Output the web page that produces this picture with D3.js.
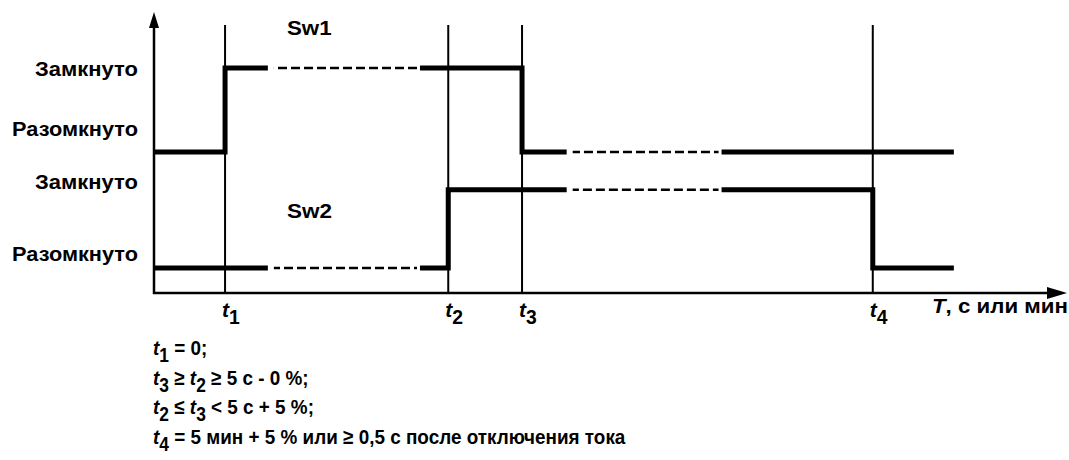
<!DOCTYPE html>
<html lang="ru">
  <head>
    <meta charset="UTF-8" />
    <title>Sw1 / Sw2</title>
    <script src="https://d3js.org/d3.v7.min.js"></script>
    <style>
      body { margin: 0; background: #fff; }
      text { font-family: "Liberation Sans", Arial, sans-serif; font-weight: bold; fill: #000; }
    </style>
  </head>
  <body>
    <svg></svg>
    <script>
      // time axis is in arbitrary units, 0..100
      var eventTimes = [7.8, 32.3, 40.4, 78.9];
      var eventNames = ["1", "2", "3", "4"];
      var endTime = 87.8;
      // dashed stretches (time is not to scale there)
      var breaks = [[12.5, 29.2], [45.3, 62.3]];

      // state levels (0..100 on the vertical axis)
      var sw1Times = [0, 7.8, 40.4, endTime];
      var sw1Levels = [50.2, 80.1, 50.2, 50.2];
      var sw2Times = [0, 32.3, 78.9, endTime];
      var sw2Levels = [8.9, 36.7, 8.9, 8.9];

      var stateLabels = ["Замкнуто", "Разомкнуто", "Замкнуто", "Разомкнуто"];
      var stateLabelPos = [79.7, 58.4, 39.5, 13.9];

      var signalNames = ["Sw1", "Sw2"];
      var signalNamePos = [[14.6, 91.8], [14.6, 26.7]];

      var axisLabel = "T, с или мин";
      var notes = [
        "t_1 = 0;",
        "t_3 ≥ t_2 ≥ 5 с - 0 %;",
        "t_2 ≤ t_3 < 5 с + 5 %;",
        "t_4 = 5 мин + 5 % или ≥ 0,5 с после отключения тока"
      ];

      var width = 1069;
      var height = 460;
      var fs = 21;
      var subDy = 7;

      var svg = d3.select("svg").attr("width", width).attr("height", height);

      var x = d3.scaleLinear().domain([0, 100]).range([154, 1065]);
      var y = d3.scaleLinear().domain([0, 100]).range([293, 12]);

      function squeeze(node, x0, sx) {
        d3.select(node).attr("transform", `translate(${x0},0) scale(${sx},1) translate(${-x0},0)`);
      }
      // stretch a text to the width it has in the original
      function fit(node, x0, w) {
        squeeze(node, x0, w / node.getBBox().width);
      }

      // writes "t_1" style markup into tspans
      function rich(textSel, str) {
        var parts = str.split(/(t_\d|^T)/).filter((p) => p !== "");
        var back = 0;
        parts.forEach(function (p) {
          var ts;
          if (/^t_\d$/.test(p)) {
            textSel.append("tspan").attr("dy", back || null).style("font-style", "italic").text("t");
            textSel.append("tspan").attr("dy", subDy).style("font-size", fs * 0.92 + "px").text(p[2]);
            back = -subDy;
            return;
          }
          ts = textSel.append("tspan").attr("dy", back || null).text(p);
          if (p === "T") ts.style("font-style", "italic");
          back = 0;
        });
      }

      // guide lines at t1..t4
      svg.append("g")
        .selectAll("line")
        .data(eventTimes)
        .join("line")
        .attr("x1", (d) => x(d))
        .attr("x2", (d) => x(d))
        .attr("y1", y(95.4))
        .attr("y2", y(0))
        .attr("stroke", "#000")
        .attr("stroke-width", 2);

      // axes with arrow heads
      var gAxes = svg.append("g");
      gAxes.append("line")
        .attr("x1", x(0)).attr("x2", x(0))
        .attr("y1", y(0) + 1).attr("y2", y(100) + 12)
        .attr("stroke", "#000").attr("stroke-width", 2.5);
      gAxes.append("path")
        .attr("d", `M${x(0)},${y(100)} L${x(0) - 5},${y(100) + 16} L${x(0) + 5},${y(100) + 16} Z`);
      gAxes.append("line")
        .attr("x1", x(0) - 1).attr("x2", x(100) - 14)
        .attr("y1", y(0)).attr("y2", y(0))
        .attr("stroke", "#000").attr("stroke-width", 2.5);
      gAxes.append("path")
        .attr("d", `M${x(100) + 2},${y(0)} L${x(100) - 18},${y(0) - 6} L${x(100) - 18},${y(0) + 6} Z`);

      // clip regions: solid parts and dashed parts
      var defs = svg.append("defs");
      var solidSpans = [[-1, breaks[0][0]], [breaks[0][1], breaks[1][0]], [breaks[1][1], 101]];
      defs.append("clipPath").attr("id", "solid")
        .selectAll("rect").data(solidSpans).join("rect")
        .attr("x", (d) => x(d[0])).attr("width", (d) => x(d[1]) - x(d[0]))
        .attr("y", 0).attr("height", height);
      defs.append("clipPath").attr("id", "dashed")
        .selectAll("rect").data(breaks).join("rect")
        .attr("x", (d) => x(d[0]) + 6).attr("width", (d) => x(d[1]) - x(d[0]) - 9)
        .attr("y", 0).attr("height", height);

      var step = d3.line()
        .x((d) => x(d[0]))
        .y((d) => y(d[1]))
        .curve(d3.curveStepAfter);

      var signals = [d3.zip(sw1Times, sw1Levels), d3.zip(sw2Times, sw2Levels)];

      var gSig = svg.append("g");
      gSig.selectAll(".sig")
        .data(signals)
        .join("path")
        .attr("class", "sig")
        .attr("d", step)
        .attr("fill", "none")
        .attr("stroke", "#000")
        .attr("stroke-width", 5)
        .attr("clip-path", "url(#solid)");
      gSig.selectAll(".gap")
        .data(signals)
        .join("path")
        .attr("class", "gap")
        .attr("d", step)
        .attr("fill", "none")
        .attr("stroke", "#000")
        .attr("stroke-width", 2.5)
        .attr("stroke-dasharray", "9,4")
        .attr("clip-path", "url(#dashed)");

      // state labels on the left
      var labelW = [103, 126, 103, 126];
      svg.append("g")
        .selectAll("text")
        .data(stateLabels)
        .join("text")
        .attr("x", x(0) - 16)
        .attr("y", (d, i) => y(stateLabelPos[i]))
        .attr("dy", "0.35em")
        .attr("text-anchor", "end")
        .style("font-size", fs + "px")
        .text((d) => d)
        .each(function (d, i) { fit(this, x(0) - 16, labelW[i]); });

      // Sw1 / Sw2
      svg.append("g")
        .selectAll("text")
        .data(signalNames)
        .join("text")
        .attr("x", (d, i) => x(signalNamePos[i][0]))
        .attr("y", (d, i) => y(signalNamePos[i][1]))
        .style("font-size", fs + "px")
        .text((d) => d)
        .each(function (d, i) { fit(this, x(signalNamePos[i][0]), 45); });

      // t1..t4 under the axis
      svg.append("g")
        .selectAll("text")
        .data(eventTimes)
        .join("text")
        .attr("x", (d) => x(d) - 3)
        .attr("y", 317)
        .style("font-size", fs + "px")
        .each(function (d, i) {
          rich(d3.select(this), "t_" + eventNames[i]);
        });

      var tl = svg.append("text")
        .attr("x", 932)
        .attr("y", 313)
        .style("font-size", fs + "px");
      rich(tl, axisLabel);
      fit(tl.node(), 932, 136);

      // notes below the chart
      svg.append("g")
        .selectAll("text")
        .data(notes)
        .join("text")
        .attr("x", 153)
        .attr("y", (d, i) => 355 + i * 29.7)
        .style("font-size", fs + "px")
        .each(function (d) {
          rich(d3.select(this), d);
          squeeze(this, 153, 0.9);
        });
    </script>
  </body>
</html>
